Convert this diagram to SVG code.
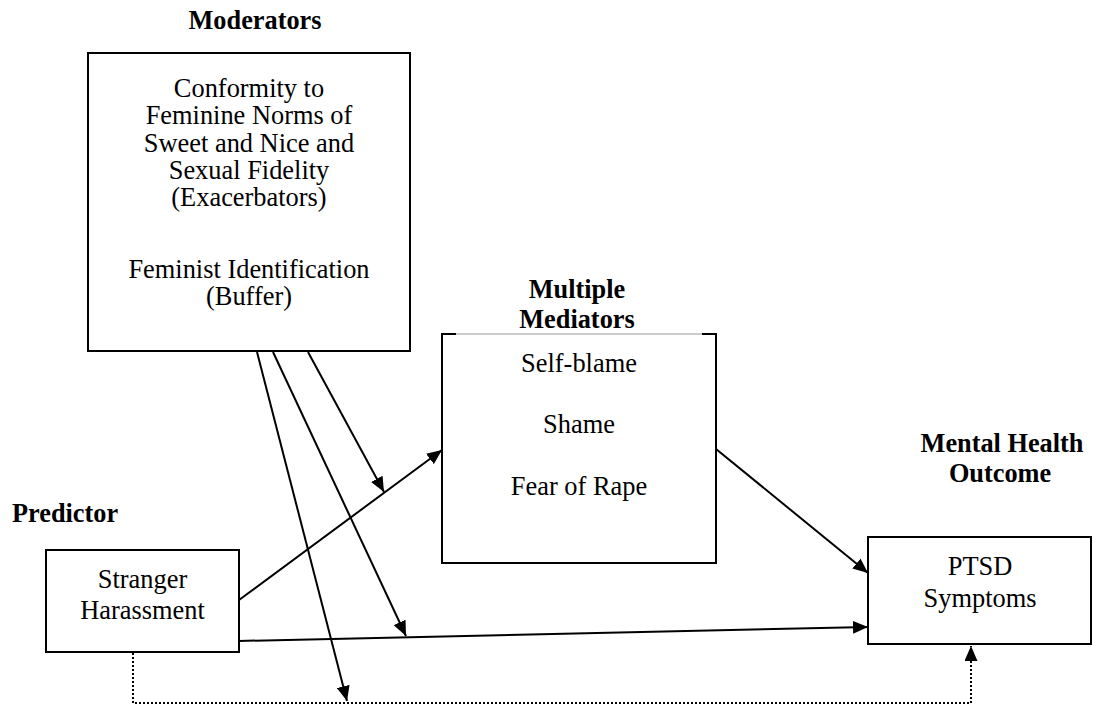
<svg xmlns="http://www.w3.org/2000/svg" width="1093" height="707" viewBox="0 0 1093 707">
<style>
.box{fill:#fff;stroke:#000;stroke-width:2}
.t{font-family:"Liberation Serif","Times New Roman",serif;font-size:26.4px;fill:#000;text-anchor:middle}
.h{font-family:"Liberation Serif","Times New Roman",serif;font-size:26.3px;font-weight:bold;fill:#000}
.c{fill:none;stroke:#000;stroke-width:2}
.d{fill:none;stroke:#000;stroke-width:2;stroke-dasharray:2 2}
</style>
<defs>
<marker id="ah" markerUnits="userSpaceOnUse" markerWidth="16" markerHeight="13" refX="15" refY="6.5" orient="auto">
<path d="M0,0 L15,6.5 L0,13 z" fill="#000"/>
</marker>
</defs>
<rect width="1093" height="707" fill="#fff"/>
<g id="headers">
<text class="h" x="255" y="29" text-anchor="middle">Moderators</text>
<text class="h" x="577" y="298" text-anchor="middle">Multiple</text>
<text class="h" x="577" y="328" text-anchor="middle">Mediators</text>
<text class="h" x="1002" y="452" text-anchor="middle">Mental Health</text>
<text class="h" x="1000" y="482" text-anchor="middle">Outcome</text>
<text class="h" x="12" y="522">Predictor</text>
</g>
<g id="moderators">
<rect class="box" x="88" y="53" width="322" height="298"/>
<text class="t" x="249" y="97">Conformity to</text>
<text class="t" x="249" y="124">Feminine Norms of</text>
<text class="t" x="249" y="151.5">Sweet and Nice and</text>
<text class="t" x="249" y="178.5">Sexual Fidelity</text>
<text class="t" x="249" y="206">(Exacerbators)</text>
<text class="t" x="249" y="278">Feminist Identification</text>
<text class="t" x="249" y="305">(Buffer)</text>
</g>
<g id="mediators">
<rect x="442" y="334" width="274" height="229" fill="#fff"/>
<path d="M456,334 L442,334 L442,563 L716,563 L716,334 L702,334" class="c"/>
<line x1="456" y1="334" x2="702" y2="334" stroke="#999" stroke-width="1"/>
<text class="t" x="579" y="372">Self-blame</text>
<text class="t" x="579" y="433">Shame</text>
<text class="t" x="579" y="495">Fear of Rape</text>
</g>
<g id="predictor">
<rect class="box" x="46" y="550" width="193" height="102"/>
<text class="t" x="142.5" y="588">Stranger</text>
<text class="t" x="142.5" y="619">Harassment</text>
</g>
<g id="outcome">
<rect class="box" x="868" y="537" width="223" height="107"/>
<text class="t" x="980" y="575">PTSD</text>
<text class="t" x="980" y="607">Symptoms</text>
</g>
<g id="connectors">
<line class="c" x1="239" y1="600" x2="442" y2="450" marker-end="url(#ah)"/>
<line class="c" x1="239" y1="641" x2="868" y2="627" marker-end="url(#ah)"/>
<line class="c" x1="716" y1="449" x2="868" y2="573" marker-end="url(#ah)"/>
<path class="d" d="M133,653 L133,703 L971,703 L971,646" marker-end="url(#ah)"/>
<line class="c" x1="257" y1="352" x2="347" y2="701" marker-end="url(#ah)"/>
<line class="c" x1="273" y1="352" x2="406" y2="636" marker-end="url(#ah)"/>
<line class="c" x1="308" y1="352" x2="384" y2="492" marker-end="url(#ah)"/>
</g>
</svg>
